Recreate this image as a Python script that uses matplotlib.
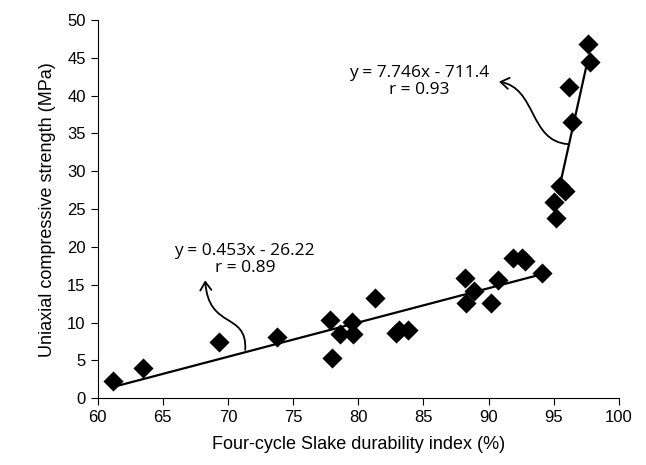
import matplotlib
matplotlib.use("Agg")
import matplotlib.pyplot as plt
from matplotlib.patches import FancyArrowPatch
from matplotlib.path import Path

# slake durability index (%) vs UCS (MPa)
sdi = [61.2, 63.5, 69.3, 73.8, 77.8, 78.0, 78.6, 79.5, 79.6, 81.3,
       82.9, 83.1, 83.8, 88.2, 88.3, 88.9, 90.2, 90.7, 91.9, 92.6,
       92.8, 94.1, 95.0, 95.2, 95.5, 95.9, 96.2, 96.4, 97.6, 97.8]
ucs = [2.3, 4.0, 7.5, 8.1, 10.4, 5.3, 8.5, 10.1, 8.5, 13.3,
       8.6, 9.0, 9.0, 15.9, 12.6, 14.2, 12.6, 15.7, 18.6, 18.6,
       18.2, 16.5, 25.9, 23.8, 28.0, 27.4, 41.1, 36.5, 46.8, 44.4]

# fitted lines: (slope, intercept, x start, x end)
fit_low = (0.453, -26.22, 61.3, 94.1)
fit_high = (7.746, -711.4, 95.5, 97.6)
label_low = "y = 0.453x - 26.22\nr = 0.89"
label_high = "y = 7.746x - 711.4\nr = 0.93"

fig = plt.figure(figsize=(6.46, 4.65), dpi=100)
ax = fig.add_axes([0.151, 0.1434, 0.807, 0.8136])

ax.scatter(sdi, ucs, marker="D", s=105, color="black", zorder=3, linewidths=0)

for m, c, x0, x1 in [fit_low, fit_high]:
    ax.plot([x0, x1], [m * x0 + c, m * x1 + c], color="black", lw=1.6, zorder=2)

ax.text(71.3, 18.3, label_low, ha="center", va="center", fontsize=12.5,
        family="Open Sans", linespacing=1.1)
ax.text(84.7, 41.9, label_high, ha="center", va="center", fontsize=12.5,
        family="Open Sans", linespacing=1.1)

# curved arrows from the lines to the equations
arrows = [
    [(71.33, 6.4), (71.5, 11.5), (68.5, 9.0), (68.26, 15.6)],
    [(96.07, 33.6), (93.1, 34.0), (93.7, 41.0), (90.8, 41.85)],
]
for pts in arrows:
    p = Path(pts, [Path.MOVETO, Path.CURVE4, Path.CURVE4, Path.CURVE4])
    ax.add_patch(FancyArrowPatch(path=p, arrowstyle="->,head_length=6,head_width=4",
                                 color="black", lw=1.3, transform=ax.transData))

ax.set_xlim(60, 100)
ax.set_ylim(0, 50)
ax.set_xticks(range(60, 101, 5))
ax.set_yticks(range(0, 51, 5))
for s in ["top", "right"]:
    ax.spines[s].set_visible(False)
ax.tick_params(direction="out", length=5, labelsize=12)
for lab in ax.get_xticklabels() + ax.get_yticklabels():
    lab.set_family("Liberation Sans")
ax.set_xlabel("Four-cycle Slake durability index (%)", fontsize=13, family="Liberation Sans", labelpad=8)
ax.set_ylabel("Uniaxial compressive strength (MPa)", fontsize=13, family="Liberation Sans", labelpad=8)

fig.savefig("out.png", dpi=100)
